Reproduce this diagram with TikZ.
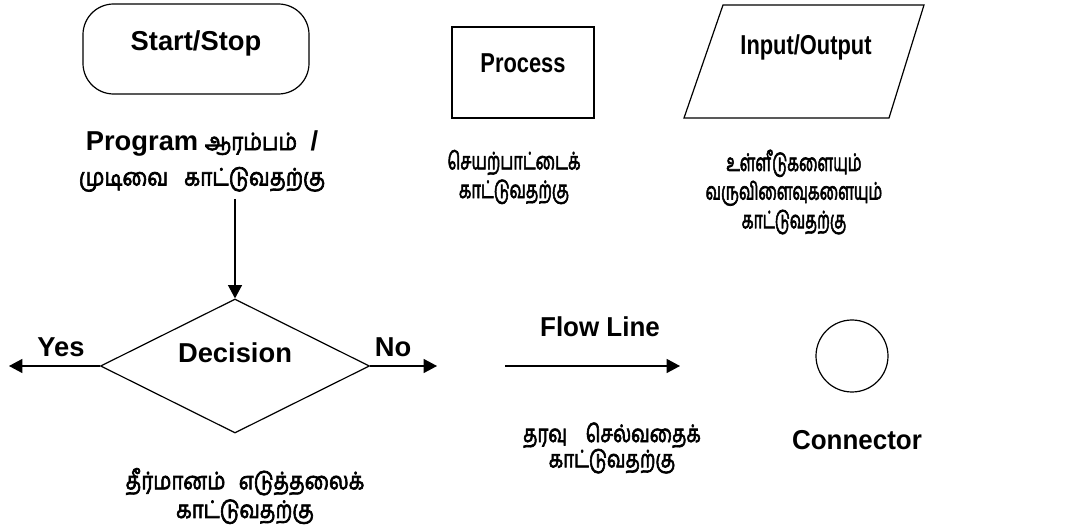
\documentclass[tikz,border=0pt]{standalone}
\usepackage{fontspec}
\usepackage{graphicx}
\setmainfont{Liberation Sans}
\newfontfamily\tamilfont[Script=Tamil,FakeBold=3]{Hind Madurai}
% Tamil words are set narrow; \tamx is the horizontal factor of each caption
\def\tamx{0.68}
\newcommand\tam[1]{\scalebox{\tamx}[1]{\tamilfont #1}}
\usetikzlibrary{shapes.geometric,arrows.meta}

\begin{document}
\begin{tikzpicture}[x=0.75pt,y=-0.75pt,line width=0.9pt,
  shapebox/.style={draw,inner sep=0pt},
  title/.style={font=\fontsize{20.5}{24}\selectfont\bfseries,inner sep=0pt},
  narrowtitle/.style={title,xscale=0.8},
  caption/.style n args={2}{font={\fontsize{18}{#2}\selectfont\def\tamx{#1}},align=center,inner sep=0pt},
  flow/.style={-{Triangle[length=10pt,width=10.5pt]}}]
\useasboundingbox (0,0) rectangle (1068,527);

% Terminal symbol
\node[shapebox,rounded corners=23pt,minimum width=169.5pt,minimum height=67.5pt] (start) at (196,49) {};
\node[title] (startlbl) at (196,43) {Start/Stop};
\node[caption={0.87}{26.5}] (startcap) at (202,161)
  {{\fontsize{20.5}{24}\selectfont\bfseries Program} \tam{ஆரம்பம்}\hspace{10pt}{\fontsize{20.5}{24}\selectfont\bfseries /}\\\tam{முடிவை}\hspace{12pt}\tam{காட்டுவதற்கு}};

% Process symbol
\node[shapebox,minimum width=106.5pt,minimum height=68.25pt] (proc) at (523,72.5) {};
\node[narrowtitle] (proclbl) at (523,63) {Process};
\node[caption={0.68}{21.5}] (proccap) at (514,177) {\tam{செயற்பாட்டைக்}\\\tam{காட்டுவதற்கு}};

% Input/Output symbol
\coordinate (io1) at (723,5);
\coordinate (io2) at (924,5);
\coordinate (io3) at (889,118);
\coordinate (io4) at (684,118);
\draw (io1) -- (io2) -- (io3) -- (io4) -- cycle;
\node[narrowtitle] (iolbl) at (806,47) {Input/Output};
\node[caption={0.645}{21.5}] (iocap) at (794,192) {\tam{உள்ளீடுகளையும்}\\\tam{வருவிளைவுகளையும்}\\\tam{காட்டுவதற்கு}};

% Decision symbol
\coordinate (into) at (235,199);
\node[shapebox,diamond,minimum width=201.75pt,minimum height=100.5pt] (dec) at (235,366) {};
\node[title] (declbl) at (235,353) {Decision};
\coordinate (yesend) at (9,366);
\coordinate (noend) at (437,366);
\draw[flow] (into) -- (dec.north);
\draw[flow] (dec.west) -- (yesend);
\draw[flow] (dec.east) -- (noend);
\node[title] (yes) at (61,347) {Yes};
\node[title] (no) at (393,347) {No};
\node[caption={0.85}{21.5}] (deccap) at (245,496) {\tam{தீர்மானம்}\hspace{10pt}\tam{எடுத்தலைக்}\\\tam{காட்டுவதற்கு}};

% Flow line
\coordinate (fl1) at (505,366);
\coordinate (fl2) at (680,366);
\draw[flow] (fl1) -- (fl2);
\node[title,xscale=0.95] (fllbl) at (600,327) {Flow Line};
\node[caption={0.78}{19}] (flcap) at (612,448) {\tam{தரவு}\hspace{14pt}\tam{செல்வதைக்}\\\tam{காட்டுவதற்கு}};

% Connector
\node[shapebox,circle,minimum size=54pt] (conn) at (852,356) {};
\node[title,xscale=0.95] (connlbl) at (857,440) {Connector};
\end{tikzpicture}
\end{document}
